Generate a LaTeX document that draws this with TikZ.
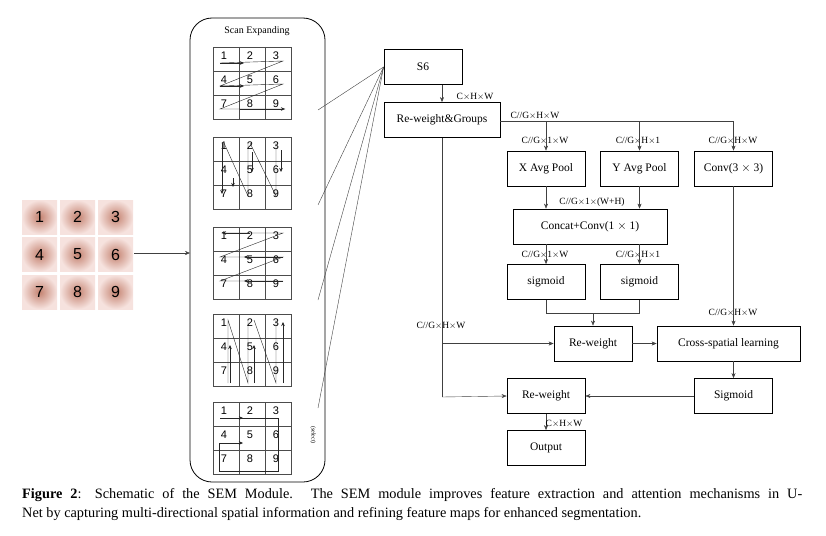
\documentclass[tikz,border=0pt]{standalone}
\usepackage{fontspec}
\setmainfont{Liberation Serif}
\newfontfamily\gridfont{Liberation Sans}
\usetikzlibrary{arrows.meta,calc,positioning}
\definecolor{tiledark}{RGB}{196,130,112}
\definecolor{tilepale}{RGB}{246,226,222}
\tikzset{
  box/.style={draw,thick,minimum width=78pt,minimum height=35pt,inner sep=1pt,font=\fontsize{11.5}{12}\selectfont},
  lbl/.style={font=\fontsize{9.5}{10}\selectfont,inner sep=1pt},
  conn/.style={draw=black!75,-{Stealth[length=5pt,width=4pt]}},
  line/.style={draw=black!75},
  scan/.style={draw=black!85,thin},
  sarr/.style={scan,-{Stealth[length=4pt,width=3.5pt]}},
  tile/.style={inner color=tiledark,outer color=tilepale,draw=none},
}
\newcommand{\scangrid}[2]{%
  \draw[thick,black!70] (#1,#2) rectangle ++(78,72);
  \foreach \k in {1,2} {
    \draw[black!70] ({#1+26*\k},#2) -- ++(0,72);
    \draw[black!70] (#1,{#2+24*\k}) -- ++(78,0);
  }
  \foreach \r in {1,2,3} \foreach \c in {1,2,3} {
    \pgfmathtruncatemacro{\n}{3*(\r-1)+\c}
    \node[font=\gridfont\fontsize{11}{12}\selectfont,inner sep=0pt] at ({#1+26*\c-15},{#2+24*\r-15}) {\n};
  }}
\begin{document}
\begin{tikzpicture}[x=1pt,y=-1pt]
\useasboundingbox (0,0) rectangle (826,535);
% input image
\foreach \r in {0,1,2} \foreach \c in {0,1,2} {
  \pgfmathtruncatemacro{\n}{3*\r+\c+1}
  \shade[tile] ({22+38*\c},{200+37.5*\r}) rectangle ++(35,34);
  \node[font=\gridfont\fontsize{16}{17}\selectfont] at ({39.5+38*\c},{217+37.5*\r}) {\n};
}
\coordinate (img) at (134,253);
% scan expanding
\draw[thick,rounded corners=22pt] (190,18) rectangle (325,482);
\node[font=\fontsize{10}{11}\selectfont] at (257,31) {Scan Expanding};
\coordinate (scanin) at (190,253);
\draw[conn] (img) -- (scanin);
\foreach \t in {47,137,227,314,402} {\scangrid{213}{\t}}
% grid 1: rows left to right
\draw[scan] (220,63) -- (283,61) -- (220,86) -- (283,84) -- (220,109) -- (285,109);
\draw[sarr] (220,63) -- (244,63);
\draw[sarr] (220,86) -- (244,86);
\draw[sarr] (240,109) -- (285,109);
% grid 2: columns top to bottom
\draw[sarr] (222,143) -- (222,194);
\draw[scan] (224,143) -- (248,196) -- (248,143);
\draw[sarr] (252,152) -- (252,172);
\draw[scan] (250,143) -- (276,196) -- (276,143);
\draw[sarr] (281,150) -- (281,172);
\draw[sarr] (233,178) -- (233,187);
% grid 3: rows right to left
\draw[scan] (283,281) -- (220,281) -- (283,257) -- (220,257) -- (283,233) -- (222,233);
\draw[sarr] (283,281) -- (244,281);
\draw[sarr] (283,257) -- (244,257);
\draw[sarr] (250,233) -- (222,233);
% grid 4: columns bottom to top
\draw[sarr] (230,383) -- (230,345);
\draw[scan] (228,383) -- (228,320) -- (248,383) -- (248,320);
\draw[sarr] (254,383) -- (254,345);
\draw[scan] (254,320) -- (276,383) -- (276,320);
\draw[sarr] (283,383) -- (283,322);
% grid 5: select
\draw[scan] (220,418) -- (278,418) -- (278,471) -- (219,471) -- (219,443) -- (241,443);
\draw[sarr] (220,418) -- (243,418);
\draw[sarr] (232,443) -- (243,443);
\node[font=\fontsize{6}{7}\selectfont,rotate=-90] at (313,435) {(select)};
% S6 and modules
\node[box] (s6) at (423,67) {S6};
\node[box,minimum width=116pt] (rg) at (442,120) {Re-weight\&Groups};
\foreach \y in {110,205,300,408} {\draw[line] (318,\y) -- (s6.west);}
\draw[conn] (s6.south -| rg) -- (rg.north);
\node[lbl] at (475,97) {C$\times$H$\times$W};
\node[box] (xp) at (546,168.5) {X Avg Pool};
\node[box] (yp) at (639.5,168.5) {Y Avg Pool};
\node[box] (cv) at (733.5,168.5) {Conv(3 $\times$ 3)};
\node[box,minimum width=154pt] (cc) at (590,226.5) {Concat+Conv(1 $\times$ 1)};
\node[box] (sx) at (546,282) {sigmoid};
\node[box] (sy) at (639.5,282) {sigmoid};
\node[box] (rw1) at (593,343.5) {Re-weight};
\node[box,minimum width=143pt] (cs) at (728.5,343.5) {Cross-spatial learning};
\node[box] (rw2) at (546,396) {Re-weight};
\node[box] (sg) at (733.5,396) {Sigmoid};
\node[box] (out) at (546,448) {Output};
\coordinate (split) at (733.5,121);
\draw[line] (rg.east |- split) -- (split);
\draw[conn] (xp.north |- split) -- (xp.north);
\draw[conn] (yp.north |- split) -- (yp.north);
\draw[conn] (split) -- (cv.north);
\node[lbl] at (535,116) {C//G$\times$H$\times$W};
\node[lbl] at (545,141) {C//G$\times$1$\times$W};
\node[lbl] at (638,141) {C//G$\times$H$\times$1};
\node[lbl] at (733,141) {C//G$\times$H$\times$W};
\draw[conn] (xp.south) -- (xp.south |- cc.north);
\draw[conn] (yp.south) -- (yp.south |- cc.north);
\node[lbl] at (592,202) {C//G$\times$1$\times$(W+H)};
\draw[conn] (xp.south |- cc.south) -- (sx.north);
\draw[conn] (yp.south |- cc.south) -- (sy.north);
\node[lbl] at (545,255) {C//G$\times$1$\times$W};
\node[lbl] at (638,255) {C//G$\times$H$\times$1};
\coordinate (merge) at (593,313);
\draw[line] (sx.south) -- (sx.south |- merge) -- (sy.south |- merge) -- (sy.south);
\draw[conn] (merge) -- (rw1.north);
\draw[conn] (cv.south) -- (cs.north -| cv);
\node[lbl] at (733,313) {C//G$\times$H$\times$W};
\coordinate (low) at (442,397);
\draw[line] (rg.south) -- (low);
\draw[conn] (rw1.west -| rg) -- (rw1.west);
\node[lbl] at (441,326) {C//G$\times$H$\times$W};
\draw[conn] (low) -- (rw2.west);
\draw[conn] (rw1.east) -- (cs.west);
\draw[conn] (cs.south -| sg) -- (sg.north);
\draw[conn] (sg.west) -- (rw2.east);
\draw[conn] (rw2.south) -- (out.north);
\node[lbl] at (564,424) {C$\times$H$\times$W};
% caption
\node[anchor=north west,text width=780pt,align=justify,inner sep=0pt,font=\fontsize{14.3}{19.5}\selectfont] (cap) at (22,488)
  {\textbf{Figure 2}: Schematic of the SEM Module. The SEM module improves feature extraction and attention mechanisms in U-\linebreak Net by capturing multi-directional spatial information and refining feature maps for enhanced segmentation.};
\end{tikzpicture}
\end{document}
